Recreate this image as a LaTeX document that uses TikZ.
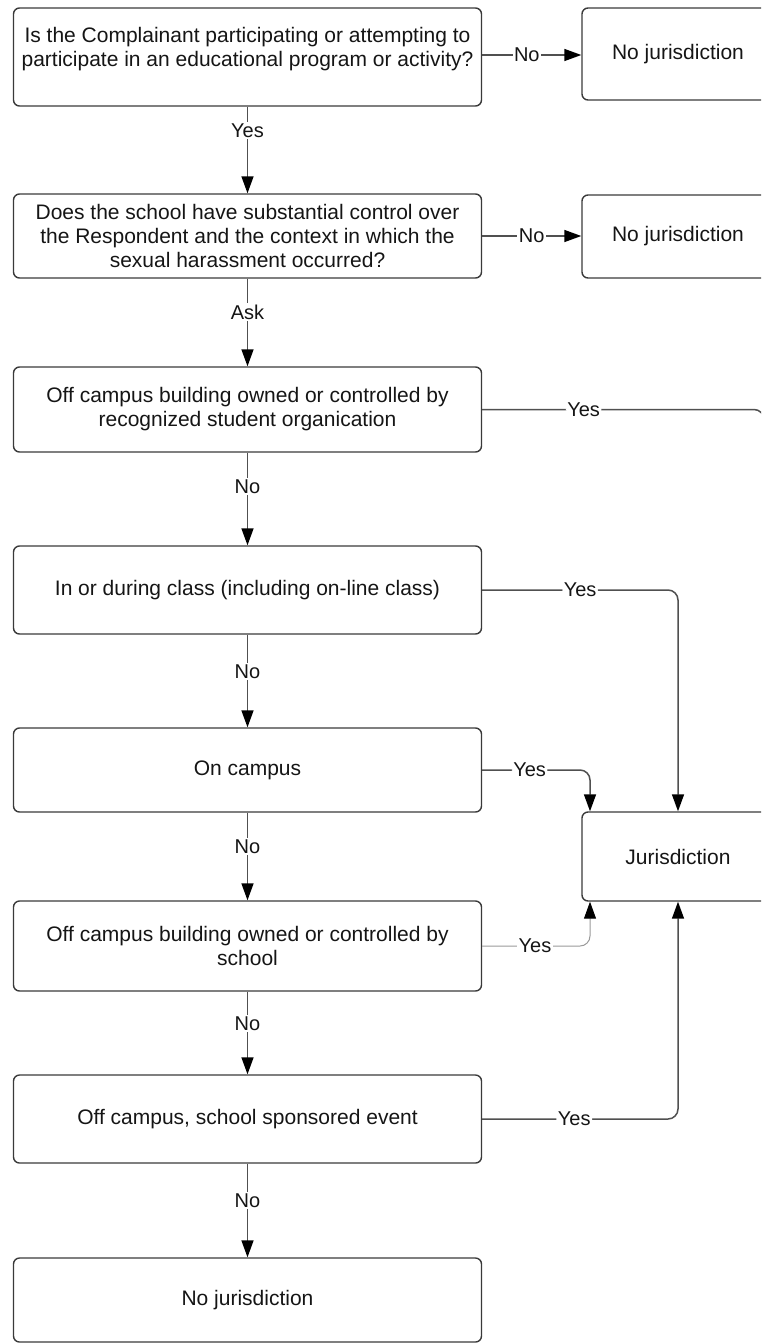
\documentclass[tikz,border=0pt]{standalone}
\usepackage{fontspec}
\setmainfont{Liberation Sans}
\usetikzlibrary{arrows.meta}
\definecolor{boxc}{HTML}{3A3A3A}
\definecolor{linec}{HTML}{505050}
\definecolor{lightc}{HTML}{9A9A9A}
\definecolor{txt}{HTML}{151515}
\begin{document}
\begin{tikzpicture}[x=1pt,y=-1pt,
  box/.style={draw=boxc, line width=1.4pt, rounded corners=6pt, minimum width=468pt,
    align=center, font=\fontsize{21}{24}\selectfont, text=txt, inner sep=0pt},
  rbox/.style={box, minimum width=192pt},
  conn/.style={draw=linec, line width=1.5pt},
  arr/.style={conn, -{Triangle[length=17pt,width=12pt,color=black]}},
  lbl/.style={fill=white, font=\fontsize{20}{22}\selectfont, text=txt, inner sep=1.5pt},
]
\path[use as bounding box, clip] (0,0) rectangle (761,1344);

% left column
\node[box, minimum height=98pt] (b1) at (247.5,57) {Is the Complainant participating or attempting to\\participate in an educational program or activity?\\[-4pt]\mbox{}};
\node[box, minimum height=84pt] (b2) at (247.5,236) {Does the school have substantial control over\\the Respondent and the context in which the\\sexual harassment occurred?};
\node[box, minimum height=85pt] (b3) at (247.5,409.5) {Off campus building owned or controlled by\\recognized student organication};
\node[box, minimum height=88pt] (b4) at (247.5,590) {In or during class (including on-line class)};
\node[box, minimum height=84pt] (b5) at (247.5,770) {On campus};
\node[box, minimum height=90pt] (b6) at (247.5,946) {Off campus building owned or controlled by\\school};
\node[box, minimum height=88pt] (b7) at (247.5,1119) {Off campus, school sponsored event};
\node[box, minimum height=84pt] (b8) at (247.5,1300) {No jurisdiction};

% right column
\node[rbox, minimum height=92pt] (r1) at (678,54) {No jurisdiction};
\node[rbox, minimum height=83pt] (r2) at (678,236.5) {No jurisdiction};
\node[rbox, minimum height=89pt] (jur) at (678,856.5) {Jurisdiction};

\coordinate (jl) at (590,0);
\coordinate (offr) at (764,480);

% vertical flow
\draw[arr] (b1) -- node[lbl,pos=0.28]{Yes} (b2);
\draw[arr] (b2) -- node[lbl,pos=0.38]{Ask} (b3);
\draw[arr] (b3) -- node[lbl,pos=0.37]{No} (b4);
\draw[arr] (b4) -- node[lbl,pos=0.40]{No} (b5);
\draw[arr] (b5) -- node[lbl,pos=0.39]{No} (b6);
\draw[arr] (b6) -- node[lbl,pos=0.39]{No} (b7);
\draw[arr] (b7) -- node[lbl,pos=0.39]{No} (b8);

% horizontal No
\draw[arr] (b1.east |- 0,55) -- node[lbl,pos=0.45]{No} (r1.west |- 0,55);
\draw[arr] (b2.east) -- node[lbl,pos=0.5]{No} (b2.east -| r2.west);

% Yes routes
\draw[conn, rounded corners=10pt] (b3.east) -- node[lbl,pos=0.36]{Yes} (b3.east -| offr) -- (offr);
\draw[arr, rounded corners=10pt] (b4.east) -- node[lbl,pos=0.5]{Yes} (b4.east -| jur.north) -- (jur.north);
\draw[arr, rounded corners=10pt] (b5.east) -- node[lbl,pos=0.44]{Yes} (b5.east -| jl) -- (jur.north -| jl);
\draw[arr, draw=lightc, line width=1pt, rounded corners=10pt] (b6.east) -- node[lbl,pos=0.49]{Yes} (b6.east -| jl) -- (jur.south -| jl);
\draw[arr, rounded corners=10pt] (b7.east) -- node[lbl,pos=0.47]{Yes} (b7.east -| jur.south) -- (jur.south);
\end{tikzpicture}
\end{document}
